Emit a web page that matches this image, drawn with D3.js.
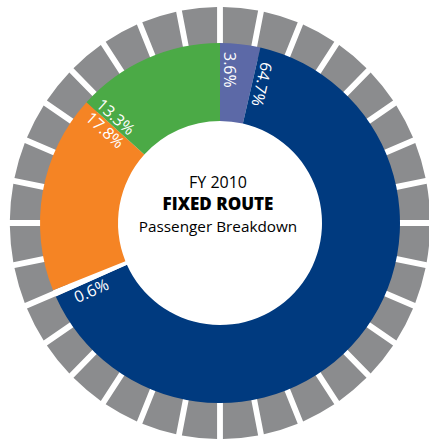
<!DOCTYPE html>
<html>
<head>
<meta charset="utf-8">
<script src="https://cdn.jsdelivr.net/npm/d3@7"></script>
<style>
  html, body { margin: 0; padding: 0; background: #fff; }
  svg { display: block; }
</style>
</head>
<body>
<svg id="chart" width="429" height="439"></svg>
<script>
// ---- data ----
const categories = ["Segment A", "Segment B", "Segment C", "Segment D", "Segment E"];
const values = [3.6, 64.7, 0.6, 17.8, 13.3];
const labels = ["3.6%", "64.7%", "0.6%", "17.8%", "13.3%"];
const titleLines = ["FY 2010", "FIXED ROUTE", "Passenger Breakdown"];
const teethCount = 32;

// ---- styles ----
const colors = ["#5c69a7", "#003a7f", "#ffffff", "#f58424", "#4baa46"];
const W = 429, H = 439;
const cx = 220, cy = 223;
const rInner = 102, rOuter = 180;

const svg = d3.select("#chart");
const g = svg.append("g").attr("transform", `translate(${cx},${cy})`);

// gear ring of gray blocks
const teethPie = d3.pie().sort(null).value(1)(d3.range(teethCount));
const teethArc = d3.arc().innerRadius(168).outerRadius(216)
  .padRadius(216).padAngle(6 / 216);
g.append("g").attr("transform", "scale(0.973,1)")
  .selectAll("path").data(teethPie).join("path")
  .attr("d", teethArc).attr("fill", "#8b8c8e");

// donut
const pie = d3.pie().sort(null).value(d => d)(values);
const arc = d3.arc().innerRadius(rInner).outerRadius(rOuter);
g.append("g").selectAll("path").data(pie).join("path")
  .attr("d", arc).attr("fill", (d, i) => colors[i]);

// labels aligned with a slice boundary
// [which boundary, baseline offset (negative = clockwise side), start radius]
const labelPlace = [
  ["start", -4, 171],
  ["start", -4, 167],
  ["start", 15, 163],
  ["end", 14, 170],
  ["start", -3, 171]
];
const deg = 180 / Math.PI;
g.append("g").selectAll("text").data(pie).join("text")
  .attr("transform", (d, i) => {
    const a = labelPlace[i][0] === "start" ? d.startAngle : d.endAngle;
    return `rotate(${a * deg + 90})`;
  })
  .attr("x", (d, i) => -labelPlace[i][2])
  .attr("y", (d, i) => labelPlace[i][1])
  .attr("text-anchor", "start")
  .attr("fill", "#ffffff")
  .attr("font-family", "'Open Sans', sans-serif")
  .attr("font-size", 16)
  .text((d, i) => labels[i]);

// center title
const title = g.append("g").attr("font-family", "'Open Sans', sans-serif")
  .attr("text-anchor", "middle").attr("fill", "#000");
title.append("text").attr("x", -2).attr("y", -35).attr("font-size", 16).text(titleLines[0]);
title.append("text").attr("x", -2).attr("y", -13).attr("font-size", 17)
  .attr("font-weight", 900).text(titleLines[1]);
title.append("text").attr("x", -2).attr("y", 9).attr("font-size", 15.3).text(titleLines[2]);
</script>
</body>
</html>
